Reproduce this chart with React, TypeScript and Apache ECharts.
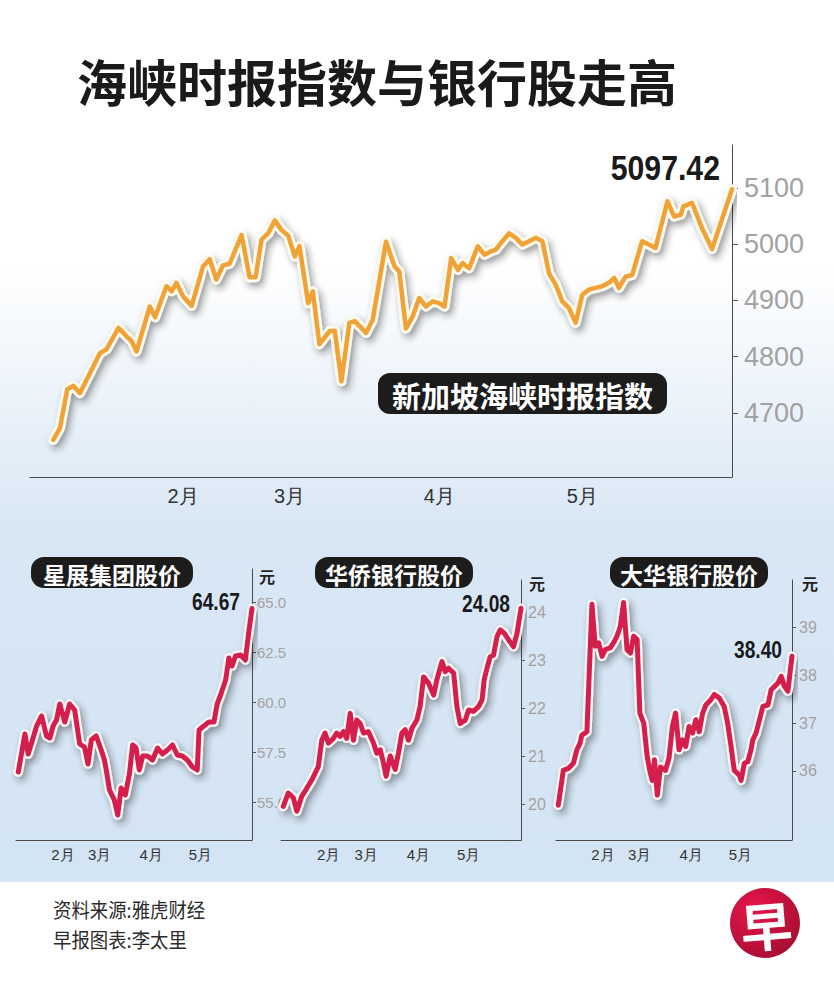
import React, { useEffect, useRef } from 'react';
import * as echarts from 'echarts';

// ---------- data ----------
const monthLabels = ['2月', '3月', '4月', '5月'];
const monthPos = [19.5, 35.5, 58, 79.5]; // trading-day index of each month label

// 新加坡海峡时报指数 (trading-day index, index value)
const stiDays = [0, 1, 2.1, 3, 4, 7, 8, 9.8, 11, 11.8, 12.5, 14.5, 15.3, 17, 17.8, 18.5, 19.5, 20.8, 22.5, 23.5,
  24.5, 25.5, 26.5, 28.3, 29.5, 30.4, 31.3, 32.3, 33.3, 34.3, 35.3, 36.3, 37, 38.3, 39, 40, 41.5, 42.3, 43.3, 44.5,
  45.3, 46.3, 47, 48, 50, 51.3, 52, 53, 54, 55, 56, 57, 58, 58.8, 59.8, 60.8, 61.5, 62.5, 63.8, 64.8,
  65.8, 66.5, 67.5, 68.5, 69.5, 70.5, 71.5, 72.5, 73.5, 74.5, 75.5, 76.5, 77.5, 78.5, 79.5, 80.5, 81.5, 82.5, 83.5, 84.3,
  85, 86, 87, 88.5, 89.5, 90.5, 92.3, 93.3, 94.3, 94.7, 96, 97.5, 99, 100.3, 102];
const stiValues = [4652, 4673, 4742, 4748, 4735, 4806, 4813, 4851, 4836, 4827, 4809, 4889, 4870, 4925, 4916, 4931, 4907, 4890, 4960, 4973,
  4937, 4962, 4965, 5016, 4941, 4941, 5008, 5019, 5042, 5025, 5015, 4978, 4996, 4895, 4916, 4822, 4845, 4846, 4756, 4860,
  4863, 4851, 4842, 4865, 5004, 4960, 4951, 4850, 4871, 4904, 4889, 4898, 4895, 4889, 4975, 4954, 4966, 4957, 4996, 4981,
  4987, 4990, 5005, 5019, 5011, 4999, 5005, 5011, 5005, 4948, 4928, 4898, 4886, 4860, 4910, 4919, 4922, 4925, 4931, 4940,
  4922, 4942, 4945, 5005, 4999, 4993, 5076, 5049, 5052, 5067, 5073, 5028, 4991, 5037, 5097.42];
const stiTicks = [4700, 4800, 4900, 5000, 5100];

// 星展集团股价
const dbsDays = [0, 2.9, 4.3, 5.8, 8, 10.2, 12.3, 13.8, 15.2, 16.7, 18.1, 20.3, 22.4, 24.6, 26.8, 28.9, 30.4, 31.9, 34, 36.2,
  37.6, 38.4, 39.8, 41.9, 43.4, 44.9, 46.7, 48.5, 49.9, 51.4, 52.8, 54.3, 56.4, 58.6, 60.8, 62.9, 65.1, 67.3, 69.4, 71.6,
  73.8, 76, 78.1, 78.9, 81, 83.2, 85.4, 86.8, 88.3, 90.5, 91.9, 93.3, 94.8, 97, 99.1, 100.6, 102];
const dbsValues = [56.5, 58.4, 57.4, 57.95, 58.8, 59.3, 58.3, 58.2, 58.8, 59.1, 59.9, 59.0, 59.9, 59.6, 57.9, 57.75, 56.9, 58.1, 58.3, 57.6,
  57.1, 56.6, 55.6, 55.1, 54.35, 55.7, 55.35, 56.4, 57.85, 57.7, 56.6, 57.3, 57.3, 57.1, 57.7, 57.4, 57.6, 57.85, 57.35, 57.3,
  57.1, 56.75, 56.6, 58.6, 58.8, 59.0, 59.0, 59.9, 60.35, 61.1, 62.2, 61.8, 62.3, 62.35, 62.1, 63.5, 64.67];
const dbsTicks = [55, 57.5, 60, 62.5, 65];

// 华侨银行股价
const ocbcDays = [0, 2.1, 4.3, 5.8, 7.9, 10.1, 12.2, 15, 16.5, 17.9, 19.3, 21.5, 22.9, 24.4, 25.8, 27.2, 28.7, 30.1, 31.5, 33,
  34.4, 36.5, 38.7, 40.1, 41.6, 43, 44.1, 45.9, 48, 49.4, 50.9, 52.3, 53.7, 55.2, 57.3, 58.7, 60.2, 62.3, 64.5, 65.9,
  68.1, 69.5, 70.9, 73.1, 74.5, 75.9, 78.1, 79.5, 81.6, 83.8, 85.3, 86.2, 87.4, 88.8, 90.2, 91.7, 93.1, 94.8, 96.7, 98.8,
  100.3, 102];
const ocbcValues = [19.95, 20.23, 20.13, 19.85, 20.16, 20.33, 20.5, 20.78, 21.33, 21.48, 21.27, 21.37, 21.48, 21.41, 21.51, 21.37, 21.89, 21.33, 21.75, 21.68,
  21.48, 21.51, 21.27, 21.06, 21.13, 20.85, 20.58, 21.0, 20.72, 21.06, 21.48, 21.55, 21.33, 21.58, 21.75, 22.03, 22.65, 22.52, 22.27, 22.59,
  22.97, 22.76, 22.83, 22.73, 22.03, 21.68, 21.75, 21.96, 21.93, 22.03, 22.17, 22.59, 22.83, 23.07, 23.1, 23.49, 23.63, 23.56, 23.42, 23.28,
  23.56, 24.08];
const ocbcTicks = [20, 21, 22, 23, 24];

// 大华银行股价
const uobDays = [0, 2.2, 4.4, 6.6, 8.1, 9.5, 10.3, 12.5, 14.7, 16.1, 17.6, 19.1, 20.5, 22.7, 24.1, 25.6, 27.1, 28.5, 30, 31.5,
  32.9, 34.4, 35.6, 37.3, 38.8, 39.9, 41, 42, 43.2, 44.6, 46.8, 48.3, 49.8, 51.2, 52.7, 54.2, 55.6, 57.1, 58.6, 60,
  61.5, 63, 64.4, 66.6, 68.1, 70.2, 72.4, 73.9, 75.4, 76.8, 79, 79.8, 81.2, 82.7, 84.1, 84.9, 86.3, 87.8, 89.3, 91.5,
  92.9, 94.4, 95.9, 97.3, 98.7, 100.2, 102];
const uobValues = [35.28, 36.01, 36.05, 36.16, 36.44, 36.58, 36.75, 36.82, 39.49, 38.61, 38.68, 38.4, 38.54, 38.58, 38.68, 38.82, 39.03, 39.53, 38.54, 38.47,
  38.82, 38.75, 37.21, 37.0, 36.3, 36.01, 35.8, 36.23, 35.49, 36.08, 36.01, 36.26, 36.93, 37.21, 36.44, 36.65, 36.51, 36.93, 36.79, 37.07,
  36.82, 37.21, 37.38, 37.49, 37.6, 37.53, 37.35, 37.0, 36.51, 36.01, 35.91, 35.8, 36.16, 36.19, 36.44, 36.65, 36.79, 37.07, 37.35, 37.38,
  37.7, 37.77, 37.84, 37.98, 37.77, 37.67, 38.4];
const uobTicks = [36, 37, 38, 39];

const titleText = '海峡时报指数与银行股走高';
const panelTitles = ['新加坡海峡时报指数', '星展集团股价', '华侨银行股价', '大华银行股价'];
const unitText = '元';
const sourceLines = ['资料来源:雅虎财经', '早报图表:李太里'];

// ---------- styles ----------
const CJK = '"Noto Sans CJK SC", "Noto Sans", sans-serif';
const NUM = '"Liberation Sans", Arial, sans-serif';

type Panel = {
  days: number[];
  values: number[];
  ticks: number[];
  grid: { left: number; top: number; width: number; height: number };
  xMin: number;
  yMin: number;
  yMax: number;
  color: string;
  outline: string;
  lineW: number;
  outlineW: number;
  yFont: number;
  yMargin: number;
  tickLen: number;
  xFont: number;
  xMargin: number;
  decimals: number;
};

const panels: Panel[] = [
  {
    days: stiDays, values: stiValues, ticks: stiTicks,
    grid: { left: 30, top: 145, width: 702, height: 332 }, xMin: -3.5, yMin: 4586, yMax: 5176,
    color: '#f0a236', outline: '#fffaf0', lineW: 4.5, outlineW: 10,
    yFont: 27, yMargin: 12, tickLen: 6, xFont: 20, xMargin: 9, decimals: 0,
  },
  {
    days: dbsDays, values: dbsValues, ticks: dbsTicks,
    grid: { left: 16, top: 569, width: 236, height: 271 }, xMin: -1, yMin: 53.1, yMax: 66.65,
    color: '#d41f4c', outline: '#fff6f6', lineW: 5, outlineW: 9.5,
    yFont: 15, yMargin: 5, tickLen: 4, xFont: 15, xMargin: 7, decimals: 1,
  },
  {
    days: ocbcDays, values: ocbcValues, ticks: ocbcTicks,
    grid: { left: 281, top: 580, width: 240, height: 260 }, xMin: -1, yMin: 19.25, yMax: 24.67,
    color: '#d41f4c', outline: '#fff6f6', lineW: 5, outlineW: 9.5,
    yFont: 16, yMargin: 7, tickLen: 4, xFont: 15, xMargin: 7, decimals: 0,
  },
  {
    days: uobDays, values: uobValues, ticks: uobTicks,
    grid: { left: 556, top: 580, width: 236, height: 260 }, xMin: -1, yMin: 34.55, yMax: 40.0,
    color: '#d41f4c', outline: '#fff6f6', lineW: 5, outlineW: 9.5,
    yFont: 16, yMargin: 7, tickLen: 4, xFont: 15, xMargin: 7, decimals: 0,
  },
];

function buildOption() {
  const grids: any[] = [];
  const xAxes: any[] = [];
  const yAxes: any[] = [];
  const series: any[] = [];

  panels.forEach((p, i) => {
    grids.push({ ...p.grid, containLabel: false });
    xAxes.push({
      type: 'value', gridIndex: i, min: p.xMin, max: 102,
      axisLine: { show: true, onZero: false, lineStyle: { color: '#4a4a4a', width: 1 } },
      axisTick: { show: false },
      splitLine: { show: false },
      axisLabel: {
        customValues: monthPos,
        formatter: (v: number) => {
          const k = monthPos.indexOf(v);
          return k >= 0 ? monthLabels[k] : '';
        },
        color: '#333', fontSize: p.xFont, margin: p.xMargin, fontFamily: NUM,
      },
    });
    yAxes.push({
      type: 'value', gridIndex: i, position: 'right', min: p.yMin, max: p.yMax,
      axisLine: { show: true, onZero: false, lineStyle: { color: '#4a4a4a', width: 1 } },
      axisTick: { show: true, customValues: p.ticks, length: p.tickLen, lineStyle: { color: '#555', width: 1 } },
      splitLine: { show: false },
      axisLabel: {
        customValues: p.ticks,
        formatter: (v: number) => v.toFixed(p.decimals),
        color: '#a2a2a2', fontSize: p.yFont, margin: p.yMargin, fontFamily: NUM,
      },
    });
    const data = p.days.map((d, k) => [d, p.values[k]]);
    series.push({
      type: 'line', xAxisIndex: i, yAxisIndex: i, data, symbol: 'none', silent: true, z: 2,
      lineStyle: {
        color: p.outline, width: p.outlineW, cap: 'round', join: 'round',
        shadowColor: 'rgba(40,40,40,0.45)', shadowBlur: 7, shadowOffsetX: 3, shadowOffsetY: 4,
      },
    });
    series.push({
      type: 'line', xAxisIndex: i, yAxisIndex: i, data, symbol: 'none', silent: true, z: 3,
      lineStyle: { color: p.color, width: p.lineW, cap: 'round', join: 'round' },
    });
  });

  const last = (a: number[]) => a[a.length - 1];

  const pill = (x: number, y: number, w: number, h: number, r: number, text: string, fs: number) => [
    { type: 'rect', shape: { x, y, width: w, height: h, r }, style: { fill: '#1c1c1c' }, z: 10 },
    {
      type: 'text', x: x + w / 2, y: y + h / 2 + 1, z: 11,
      style: { text, fill: '#fff', fontSize: fs, fontWeight: 'bold', fontFamily: CJK, align: 'center', verticalAlign: 'middle' },
    },
  ];

  const valueLabel = (x: number, y: number, text: string, fs: number, sx: number) => ({
    type: 'text', x, y, z: 11, scaleX: sx,
    style: { text, fill: '#1a1a1a', fontSize: fs, fontWeight: 'bold', fontFamily: NUM, align: 'right', verticalAlign: 'middle' },
  });

  const unit = (x: number, y: number) => ({
    type: 'text', x, y, z: 11,
    style: { text: unitText, fill: '#222', fontSize: 16, fontWeight: 'bold', fontFamily: CJK, align: 'center', verticalAlign: 'middle' },
  });

  const graphic: any[] = [
    {
      type: 'rect', z: -10, silent: true,
      shape: { x: 0, y: 0, width: 834, height: 882 },
      style: {
        fill: new echarts.graphic.LinearGradient(0, 0, 0, 1, [
          { offset: 0, color: '#ffffff' },
          { offset: 0.3, color: '#ffffff' },
          { offset: 0.6, color: '#d9e7f5' },
          { offset: 1, color: '#d3e4f4' },
        ]),
      },
    },
    { type: 'rect', z: -10, silent: true, shape: { x: 0, y: 882, width: 834, height: 110 }, style: { fill: '#ffffff' } },
    {
      type: 'text', x: 77, y: 80, z: 11,
      style: { text: titleText, fill: '#1a1a1a', fontSize: 50, fontWeight: 'bold', fontFamily: CJK, align: 'left', verticalAlign: 'middle' },
    },
    ...pill(378, 373, 289, 41, 12, panelTitles[0], 29),
    ...pill(31, 557, 162, 31, 13, panelTitles[1], 23),
    ...pill(315, 557, 158, 31, 13, panelTitles[2], 23),
    ...pill(610, 557, 158, 31, 13, panelTitles[3], 23),
    valueLabel(720, 168, last(stiValues).toFixed(2), 36, 0.84),
    valueLabel(240, 602, last(dbsValues).toFixed(2), 24, 0.8),
    valueLabel(510, 604, last(ocbcValues).toFixed(2), 24, 0.8),
    valueLabel(782, 650, last(uobValues).toFixed(2), 24, 0.8),
    unit(267, 576),
    unit(537, 583),
    unit(810, 583),
    {
      type: 'text', x: 53, y: 910, z: 11, scaleX: 0.92,
      style: { text: sourceLines[0], fill: '#2b2b2b', fontSize: 20, fontFamily: CJK, align: 'left', verticalAlign: 'middle' },
    },
    {
      type: 'text', x: 53, y: 940, z: 11, scaleX: 0.92,
      style: { text: sourceLines[1], fill: '#2b2b2b', fontSize: 20, fontFamily: CJK, align: 'left', verticalAlign: 'middle' },
    },
    {
      type: 'circle', z: 11, shape: { cx: 765, cy: 923, r: 35 },
      style: {
        fill: new echarts.graphic.RadialGradient(0.35, 0.3, 0.8, [
          { offset: 0, color: '#e8164a' },
          { offset: 1, color: '#a30d31' },
        ]),
      },
    },
    {
      type: 'text', x: 766, y: 924, z: 12, rotation: 0.08,
      style: { text: '早', fill: '#ffffff', fontSize: 52, fontWeight: 'bold', fontFamily: CJK, align: 'center', verticalAlign: 'middle' },
    },
  ];

  return {
    animation: false,
    backgroundColor: '#ffffff',
    grid: grids,
    xAxis: xAxes,
    yAxis: yAxes,
    series,
    graphic,
  };
}

export default function App() {
  const ref = useRef<HTMLDivElement>(null);
  useEffect(() => {
    if (!ref.current) return;
    const chart = echarts.init(ref.current, undefined, { renderer: 'svg' });
    chart.setOption(buildOption() as any);
    return () => chart.dispose();
  }, []);
  return (
    <div
      ref={ref}
      style={{ position: 'fixed', left: 0, top: 0, width: 834, height: 992 }}
    />
  );
}
